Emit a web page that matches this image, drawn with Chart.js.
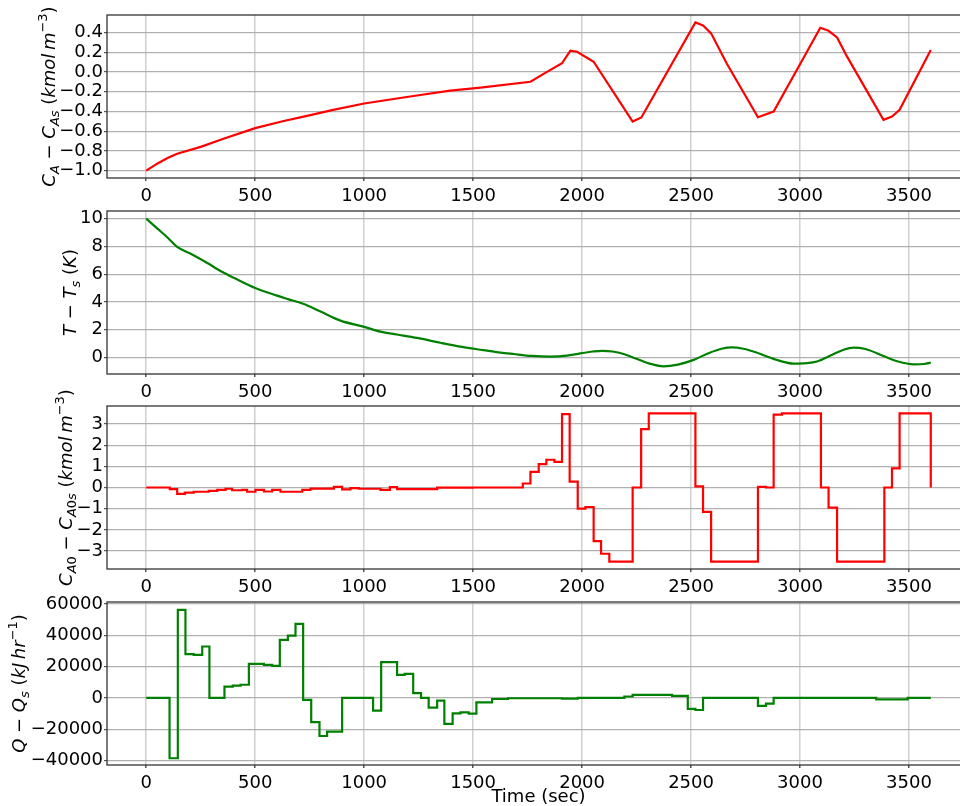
<!DOCTYPE html>
<html>
<head>
<meta charset="utf-8">
<script src="https://cdn.jsdelivr.net/npm/chart.js@4"></script>
<style>
  html, body { margin: 0; padding: 0; background: #fff; overflow: hidden; width: 960px; height: 806px; }
  .panel { position: absolute; left: 0; width: 980px; }
</style>
</head>
<body>
<div class="panel" id="p1"><canvas id="c1"></canvas></div>
<div class="panel" id="p2"><canvas id="c2"></canvas></div>
<div class="panel" id="p3"><canvas id="c3"></canvas></div>
<div class="panel" id="p4"><canvas id="c4"></canvas></div>
<script>
// data block (time in sec)
const caTime = [0, 50, 100, 142, 250, 351, 500, 626, 738, 858, 1000, 1150, 1250, 1395, 1534, 1763, 1839, 1908, 1946, 1977, 2053, 2232, 2272, 2520, 2555, 2592, 2665, 2807, 2879, 3093, 3131, 3170, 3216, 3383, 3422, 3457, 3600];
const caValue = [-1.0, -0.93, -0.87, -0.83, -0.76, -0.68, -0.57, -0.50, -0.445, -0.385, -0.32, -0.27, -0.237, -0.19, -0.16, -0.10, 0.0, 0.087, 0.214, 0.204, 0.103, -0.503, -0.462, 0.501, 0.471, 0.39, 0.08, -0.459, -0.402, 0.446, 0.416, 0.349, 0.154, -0.486, -0.452, -0.385, 0.221];

const tempTime = [0, 50, 100, 142, 200, 280, 350, 400, 500, 600, 650, 723, 800, 891, 1000, 1075, 1150, 1243, 1350, 1450, 1534, 1600, 1686, 1770, 1855, 1930, 1992, 2050, 2092, 2140, 2191, 2250, 2310, 2374, 2440, 2512, 2580, 2640, 2688, 2740, 2800, 2833, 2900, 2971, 3030, 3078, 3150, 3200, 3246, 3300, 3383, 3450, 3521, 3570, 3600];
const tempValue = [10, 9.3, 8.6, 7.96, 7.5, 6.8, 6.15, 5.75, 5.0, 4.45, 4.2, 3.85, 3.3, 2.65, 2.2, 1.85, 1.65, 1.4, 1.05, 0.75, 0.55, 0.4, 0.24, 0.1, 0.05, 0.12, 0.29, 0.42, 0.47, 0.42, 0.24, -0.1, -0.45, -0.65, -0.52, -0.18, 0.3, 0.62, 0.72, 0.62, 0.35, 0.15, -0.22, -0.45, -0.42, -0.3, 0.2, 0.55, 0.7, 0.6, 0.1, -0.3, -0.5, -0.48, -0.38];

// steps: value holds from each time until the next one
const ca0Time = [0, 108, 142, 177, 218, 287, 326, 364, 394, 440, 463, 501, 540, 578, 616, 716, 754, 861, 899, 937, 975, 1075, 1118, 1151, 1335, 1500, 1728, 1763, 1801, 1836, 1873, 1908, 1943, 1980, 2015, 2053, 2087, 2125, 2232, 2271, 2306, 2520, 2555, 2592, 2807, 2844, 2879, 2917, 3096, 3131, 3170, 3387, 3422, 3457, 3600];
const ca0Value = [0, -0.08, -0.3, -0.24, -0.2, -0.16, -0.11, -0.06, -0.13, -0.11, -0.2, -0.11, -0.19, -0.11, -0.2, -0.11, -0.05, 0.03, -0.09, -0.03, -0.06, -0.11, 0.02, -0.08, -0.01, 0, 0.19, 0.74, 1.1, 1.31, 1.21, 3.47, 0.28, -1.0, -0.92, -2.53, -3.13, -3.5, 0, 2.76, 3.5, 0.05, -1.15, -3.5, 0.03, 0, 3.44, 3.5, 0, -0.95, -3.5, 0, 0.9, 3.5, 0];

const qTime = [0, 107, 145, 180, 218, 257, 290, 359, 397, 433, 471, 540, 578, 613, 650, 685, 720, 757, 795, 830, 899, 1041, 1078, 1151, 1186, 1225, 1261, 1296, 1335, 1368, 1406, 1442, 1480, 1515, 1587, 1660, 1908, 1980, 2194, 2232, 2413, 2485, 2520, 2555, 2807, 2844, 2879, 3350, 3494, 3600];
const qValue = [0, -38500, 56200, 27900, 27500, 32800, 0, 7200, 7800, 8400, 21700, 21100, 20500, 37000, 39800, 47200, -1300, -15500, -24300, -21500, 0, -8100, 22800, 14700, 15300, 3000, 0, -6200, -1700, -16600, -9800, -9200, -10000, -2800, -700, -200, -400, 0, 900, 1900, 1300, -7000, -7700, 0, -5100, -3600, 0, -900, 0, 0];

// tick labels
const xTicks = [0, 500, 1000, 1500, 2000, 2500, 3000, 3500];
const yTicksCA = [-1.0, -0.8, -0.6, -0.4, -0.2, 0.0, 0.2, 0.4];
const yTicksT = [0, 2, 4, 6, 8, 10];
const yTicksCA0 = [-3, -2, -1, 0, 1, 2, 3];
const yTicksQ = [-40000, -20000, 0, 20000, 40000, 60000];

// layout
const plotTops = [15, 211, 406, 602];
const plotH = 163;
const padTop = 25;
const labelX = [55, 76, 72, 25];
const FS = 18;
const FONT = "DejaVu Sans";

function pts(t, v) {
  return t.map((x, i) => ({ x: x, y: v[i] }));
}

function fmt(dec) {
  return function (v) {
    const s = Math.abs(v).toFixed(dec);
    return (v < 0 && Number(s) !== 0 ? "\u2212" : "") + s;
  };
}

// rotated y label with sub/superscripts
function drawMath(ctx, segs, cx, cy) {
  ctx.save();
  ctx.translate(cx, cy);
  ctx.rotate(-Math.PI / 2);
  ctx.textBaseline = "alphabetic";
  ctx.textAlign = "left";
  ctx.fillStyle = "#000";
  const fontOf = (s) => (s.it ? "italic " : "") + ((s.sub || s.sup) ? Math.round(FS * 0.7) : FS) + 'px "' + FONT + '"';
  let total = 0;
  segs.forEach((s) => { ctx.font = fontOf(s); s.w = ctx.measureText(s.t).width; total += s.w; });
  let x = -total / 2;
  segs.forEach((s) => {
    ctx.font = fontOf(s);
    const dy = s.sub ? FS * 0.22 : s.sup ? -FS * 0.42 : 0;
    ctx.fillText(s.t, x, dy);
    x += s.w;
  });
  ctx.restore();
}

const framePlugin = {
  id: "frame",
  afterDraw(chart, args, opts) {
    const ctx = chart.ctx;
    const a = chart.chartArea;
    ctx.save();
    ctx.strokeStyle = "#333";
    ctx.lineWidth = 1.3;
    ctx.strokeRect(a.left, a.top, a.right - a.left, a.bottom - a.top);
    ctx.restore();
    if (opts.segs) drawMath(ctx, opts.segs, opts.x, (a.top + a.bottom) / 2);
  },
};

const ylabels = [
  [{ t: "C", it: 1 }, { t: "A", it: 1, sub: 1 }, { t: " \u2212 " }, { t: "C", it: 1 }, { t: "As", it: 1, sub: 1 }, { t: " (" }, { t: "kmol", it: 1 }, { t: "\u2009" }, { t: "m", it: 1 }, { t: "\u22123", sup: 1 }, { t: ")" }],
  [{ t: "T", it: 1 }, { t: " \u2212 " }, { t: "T", it: 1 }, { t: "s", it: 1, sub: 1 }, { t: " (" }, { t: "K", it: 1 }, { t: ")" }],
  [{ t: "C", it: 1 }, { t: "A", it: 1, sub: 1 }, { t: "0", sub: 1 }, { t: " \u2212 " }, { t: "C", it: 1 }, { t: "A", it: 1, sub: 1 }, { t: "0", sub: 1 }, { t: "s", it: 1, sub: 1 }, { t: " (" }, { t: "kmol", it: 1 }, { t: "\u2009" }, { t: "m", it: 1 }, { t: "\u22123", sup: 1 }, { t: ")" }],
  [{ t: "Q", it: 1 }, { t: " \u2212 " }, { t: "Q", it: 1 }, { t: "s", it: 1, sub: 1 }, { t: " (" }, { t: "kJ", it: 1 }, { t: "\u2009" }, { t: "hr", it: 1 }, { t: "\u22121", sup: 1 }, { t: ")" }],
];

const panels = [
  { data: pts(caTime, caValue), color: "#ff0000", stepped: false, smooth: false, min: -1.075, max: 0.576, ticks: yTicksCA, dec: 1 },
  { data: pts(tempTime, tempValue), color: "#008000", stepped: false, smooth: true, min: -1.2, max: 10.55, ticks: yTicksT, dec: 0 },
  { data: pts(ca0Time, ca0Value), color: "#ff0000", stepped: "before", smooth: false, min: -3.85, max: 3.85, ticks: yTicksCA0, dec: 0 },
  { data: pts(qTime, qValue), color: "#008000", stepped: "before", smooth: false, min: -42800, max: 61200, ticks: yTicksQ, dec: 0 },
];

panels.forEach((p, i) => {
  const last = i === panels.length - 1;
  const xH = last ? 43 : 30;
  const h = padTop + plotH + xH;
  const div = document.getElementById("p" + (i + 1));
  div.style.top = plotTops[i] - padTop + "px";
  div.style.height = h + "px";

  new Chart(document.getElementById("c" + (i + 1)), {
    type: "line",
    data: {
      datasets: [{
        data: p.data,
        borderColor: p.color,
        borderWidth: 2.2,
        pointRadius: 0,
        fill: false,
        stepped: p.stepped,
        cubicInterpolationMode: p.smooth ? "monotone" : "default",
        tension: 0,
      }],
    },
    options: {
      responsive: true,
      maintainAspectRatio: false,
      animation: false,
      events: [],
      layout: { padding: { top: padTop, right: 10, left: 0, bottom: 0 } },
      plugins: {
        legend: { display: false },
        tooltip: { enabled: false },
        frame: { segs: ylabels[i], x: labelX[i] },
      },
      scales: {
        x: {
          type: "linear",
          min: -180,
          max: 3780,
          afterBuildTicks: (s) => { s.ticks = xTicks.map((v) => ({ value: v })); },
          ticks: { autoSkip: false, font: { family: FONT, size: FS }, color: "#000", padding: 5, maxRotation: 0, callback: fmt(0) },
          grid: { color: "#d0d0d0", lineWidth: 1.5, drawTicks: true, tickLength: 3, tickColor: "#555" },
          border: { display: false },
          title: { display: last, text: "Time (sec)", font: { family: FONT, size: FS }, color: "#000", padding: 0 },
          afterFit: (s) => { s.height = xH; },
        },
        y: {
          type: "linear",
          min: p.min,
          max: p.max,
          afterBuildTicks: (s) => { s.ticks = p.ticks.map((v) => ({ value: v })); },
          ticks: { autoSkip: false, font: { family: FONT, size: FS }, color: "#000", padding: 1, callback: fmt(p.dec) },
          grid: { color: "#b0b0b0", lineWidth: 1.2, drawTicks: true, tickLength: 3, tickColor: "#555" },
          border: { display: false },
          afterFit: (s) => { s.width = 107; },
        },
      },
    },
    plugins: [framePlugin],
  });
});
</script>
</body>
</html>
